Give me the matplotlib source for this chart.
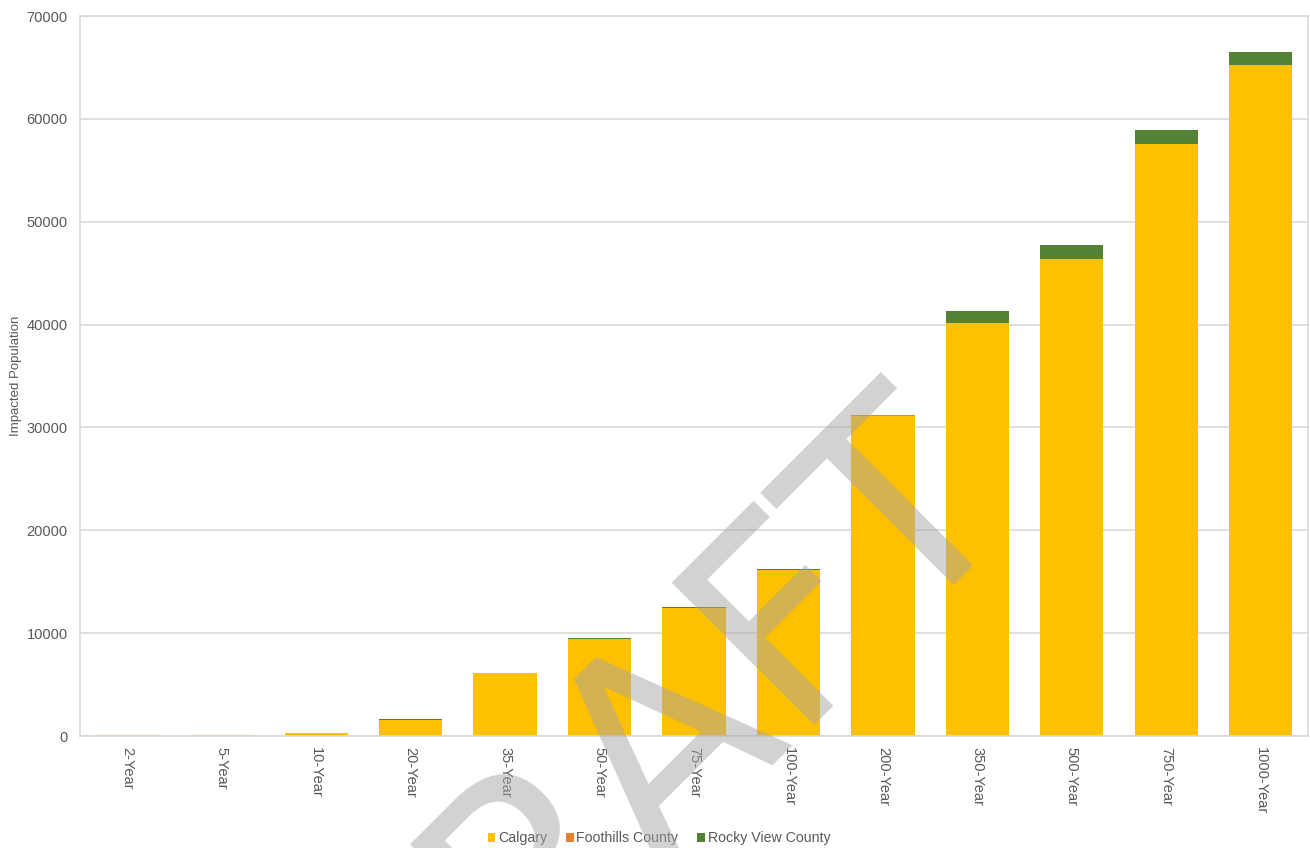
import matplotlib.pyplot as plt
import numpy as np

plt.rcParams['font.family'] = ['Liberation Sans', 'DejaVu Sans']

events = ['2-Year', '5-Year', '10-Year', '20-Year', '35-Year', '50-Year', '75-Year',
          '100-Year', '200-Year', '350-Year', '500-Year', '750-Year', '1000-Year']
calgary = [100, 100, 300, 1600, 6100, 9450, 12420, 16150, 31150, 40150, 46380, 57550, 65230]
foothills = [0, 0, 0, 0, 5, 10, 10, 10, 10, 15, 15, 20, 20]
rocky_view = [0, 0, 10, 20, 60, 90, 90, 100, 80, 1170, 1320, 1340, 1280]

c_cal = '#FFC000'
c_foot = '#ED7D31'
c_rocky = '#548235'
txt = '#595959'
grid = '#D9D9D9'

fig = plt.figure(figsize=(13.1, 8.48), dpi=100)
ax = fig.add_axes([80/1310, 112/848, 1228/1310, 720/848])

x = np.arange(len(events))
w = 0.67
cal = np.array(calgary)
foot = np.array(foothills)
rv = np.array(rocky_view)
ax.bar(x, cal, w, color=c_cal, label='Calgary', zorder=2)
ax.bar(x, foot, w, bottom=cal, color=c_foot, label='Foothills County', zorder=2)
ax.bar(x, rv, w, bottom=cal + foot, color=c_rocky, label='Rocky View County', zorder=2)

ax.set_xlim(-0.5, len(events) - 0.5)
ax.set_ylim(0, 70000)
ax.set_yticks(range(0, 70001, 10000))
ax.yaxis.grid(True, color=grid, linewidth=1.2, zorder=0)
ax.set_axisbelow(True)
for s in ax.spines.values():
    s.set_color(grid)
    s.set_linewidth(1.2)
ax.tick_params(axis='both', length=0, colors=txt, labelsize=10.5)
ax.tick_params(axis='y', pad=9)
ax.set_xticks(x)
ax.set_xticklabels(events, rotation=270, ha='center', va='top')
ax.tick_params(axis='x', pad=8)

ax.set_ylabel('Impacted Population', color=txt, fontsize=9.5)
ax.yaxis.set_label_coords(-0.047, 0.5)

fig.legend(loc='lower center', bbox_to_anchor=(0.503, -0.012), ncol=3, frameon=False,
           fontsize=10.2, labelcolor=txt, handlelength=0.55, handleheight=0.55,
           handletextpad=0.2, columnspacing=1.3)

# watermark
fig.text(642/1310, 1 - 762/848, 'DRAFT', rotation=45, fontsize=199, color='#A5A5A5',
         alpha=0.5, ha='center', va='center', family='DejaVu Sans', zorder=10)

fig.savefig('out.png', dpi=100)
